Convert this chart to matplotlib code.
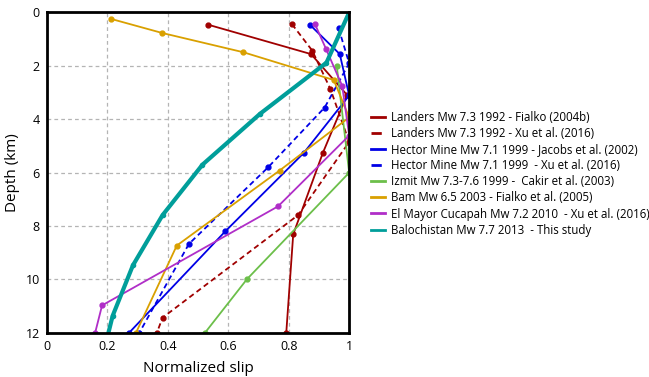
import numpy as np
import matplotlib
matplotlib.use('Agg')
import matplotlib.pyplot as plt

plt.rcParams['font.family'] = ['Open Sans', 'DejaVu Sans']

# slip (normalized) and depth (km) for each profile
landers_f_slip = [0.534, 0.874, 0.993, 0.913, 0.815, 0.792]
landers_f_depth = [0.46, 1.56, 3.09, 5.26, 8.31, 12.0]

landers_x_slip = [0.811, 0.878, 0.938, 1.0, 0.831, 0.383, 0.364]
landers_x_depth = [0.44, 1.43, 2.87, 4.85, 7.59, 11.43, 12.0]

hector_j_slip = [0.870, 0.969, 1.0, 0.850, 0.591, 0.272]
hector_j_depth = [0.46, 1.56, 3.11, 5.26, 8.19, 12.0]

hector_x_slip = [0.965, 1.0, 0.919, 0.732, 0.470, 0.306]
hector_x_depth = [0.59, 1.90, 3.56, 5.80, 8.67, 12.0]

izmit_slip = [0.959, 1.0, 0.662, 0.523]
izmit_depth = [2.0, 6.0, 9.99, 12.0]

bam_slip = [0.212, 0.382, 0.650, 0.949, 1.0, 0.770, 0.430, 0.295]
bam_depth = [0.24, 0.77, 1.49, 2.53, 3.93, 5.92, 8.73, 12.0]

elmayor_slip = [0.887, 0.924, 0.977, 1.0, 0.765, 0.183, 0.160]
elmayor_depth = [0.44, 1.38, 2.75, 4.61, 7.26, 10.97, 12.0]

baloch_slip = [1.0, 0.925, 0.706, 0.515, 0.383, 0.285, 0.218, 0.177]
baloch_depth = [0.0, 1.88, 3.79, 5.70, 7.59, 9.47, 11.36, 13.23]

labels = ['Landers Mw 7.3 1992 - Fialko (2004b)',
          'Landers Mw 7.3 1992 - Xu et al. (2016)',
          'Hector Mine Mw 7.1 1999 - Jacobs et al. (2002)',
          'Hector Mine Mw 7.1 1999  - Xu et al. (2016)',
          'Izmit Mw 7.3-7.6 1999 -  Cakir et al. (2003)',
          'Bam Mw 6.5 2003 - Fialko et al. (2005)',
          'El Mayor Cucapah Mw 7.2 2010  - Xu et al. (2016)',
          'Balochistan Mw 7.7 2013  - This study']

red = '#a00000'
blue = '#0000e6'
green = '#6cbf4a'
orange = '#d9a000'
purple = '#b02ec8'
teal = '#009e9a'

fig = plt.figure(figsize=(6.49, 3.77), dpi=100)
ax = fig.add_axes([0.072, 0.117, 0.466, 0.850])

series = [
    (landers_f_slip, landers_f_depth, red, '-', 1.3),
    (landers_x_slip, landers_x_depth, red, '--', 1.3),
    (hector_j_slip, hector_j_depth, blue, '-', 1.3),
    (hector_x_slip, hector_x_depth, blue, '--', 1.3),
    (izmit_slip, izmit_depth, green, '-', 1.3),
    (bam_slip, bam_depth, orange, '-', 1.3),
    (elmayor_slip, elmayor_depth, purple, '-', 1.3),
    (baloch_slip, baloch_depth, teal, '-', 3.0),
]

handles = []
for (s, d, c, ls, lw), lab in zip(series, labels):
    ax.plot(s, d, color=c, ls=ls, lw=lw, marker='o', ms=3.5 if lw < 2 else 3,
            dashes=(3, 2) if ls == '--' else (None, None), clip_on=True)
    h, = ax.plot([], [], color=c, ls=ls, lw=2, label=lab)
    handles.append(h)

ax.set_xlim(0, 1)
ax.set_ylim(12, 0)
ax.set_xticks([0, 0.2, 0.4, 0.6, 0.8, 1])
ax.set_xticklabels(['0', '0.2', '0.4', '0.6', '0.8', '1'])
ax.set_yticks([0, 2, 4, 6, 8, 10, 12])
ax.tick_params(length=0, labelsize=9, pad=5)
ax.grid(True, ls=(0, (3, 2.5)), color='#b4b4b4', lw=0.9)
ax.set_axisbelow(True)
for sp in ax.spines.values():
    sp.set_linewidth(2)
ax.set_xlabel('Normalized slip', fontsize=11, labelpad=6)
ax.set_ylabel('Depth (km)', fontsize=11, labelpad=4)

fig.legend(handles=handles, loc='upper left', bbox_to_anchor=(0.572, 0.706),
           frameon=False, fontsize=8.3, handlelength=1.2, handletextpad=0.5,
           labelspacing=0.27, borderpad=0, borderaxespad=0)

fig.savefig('out.png', dpi=100)
